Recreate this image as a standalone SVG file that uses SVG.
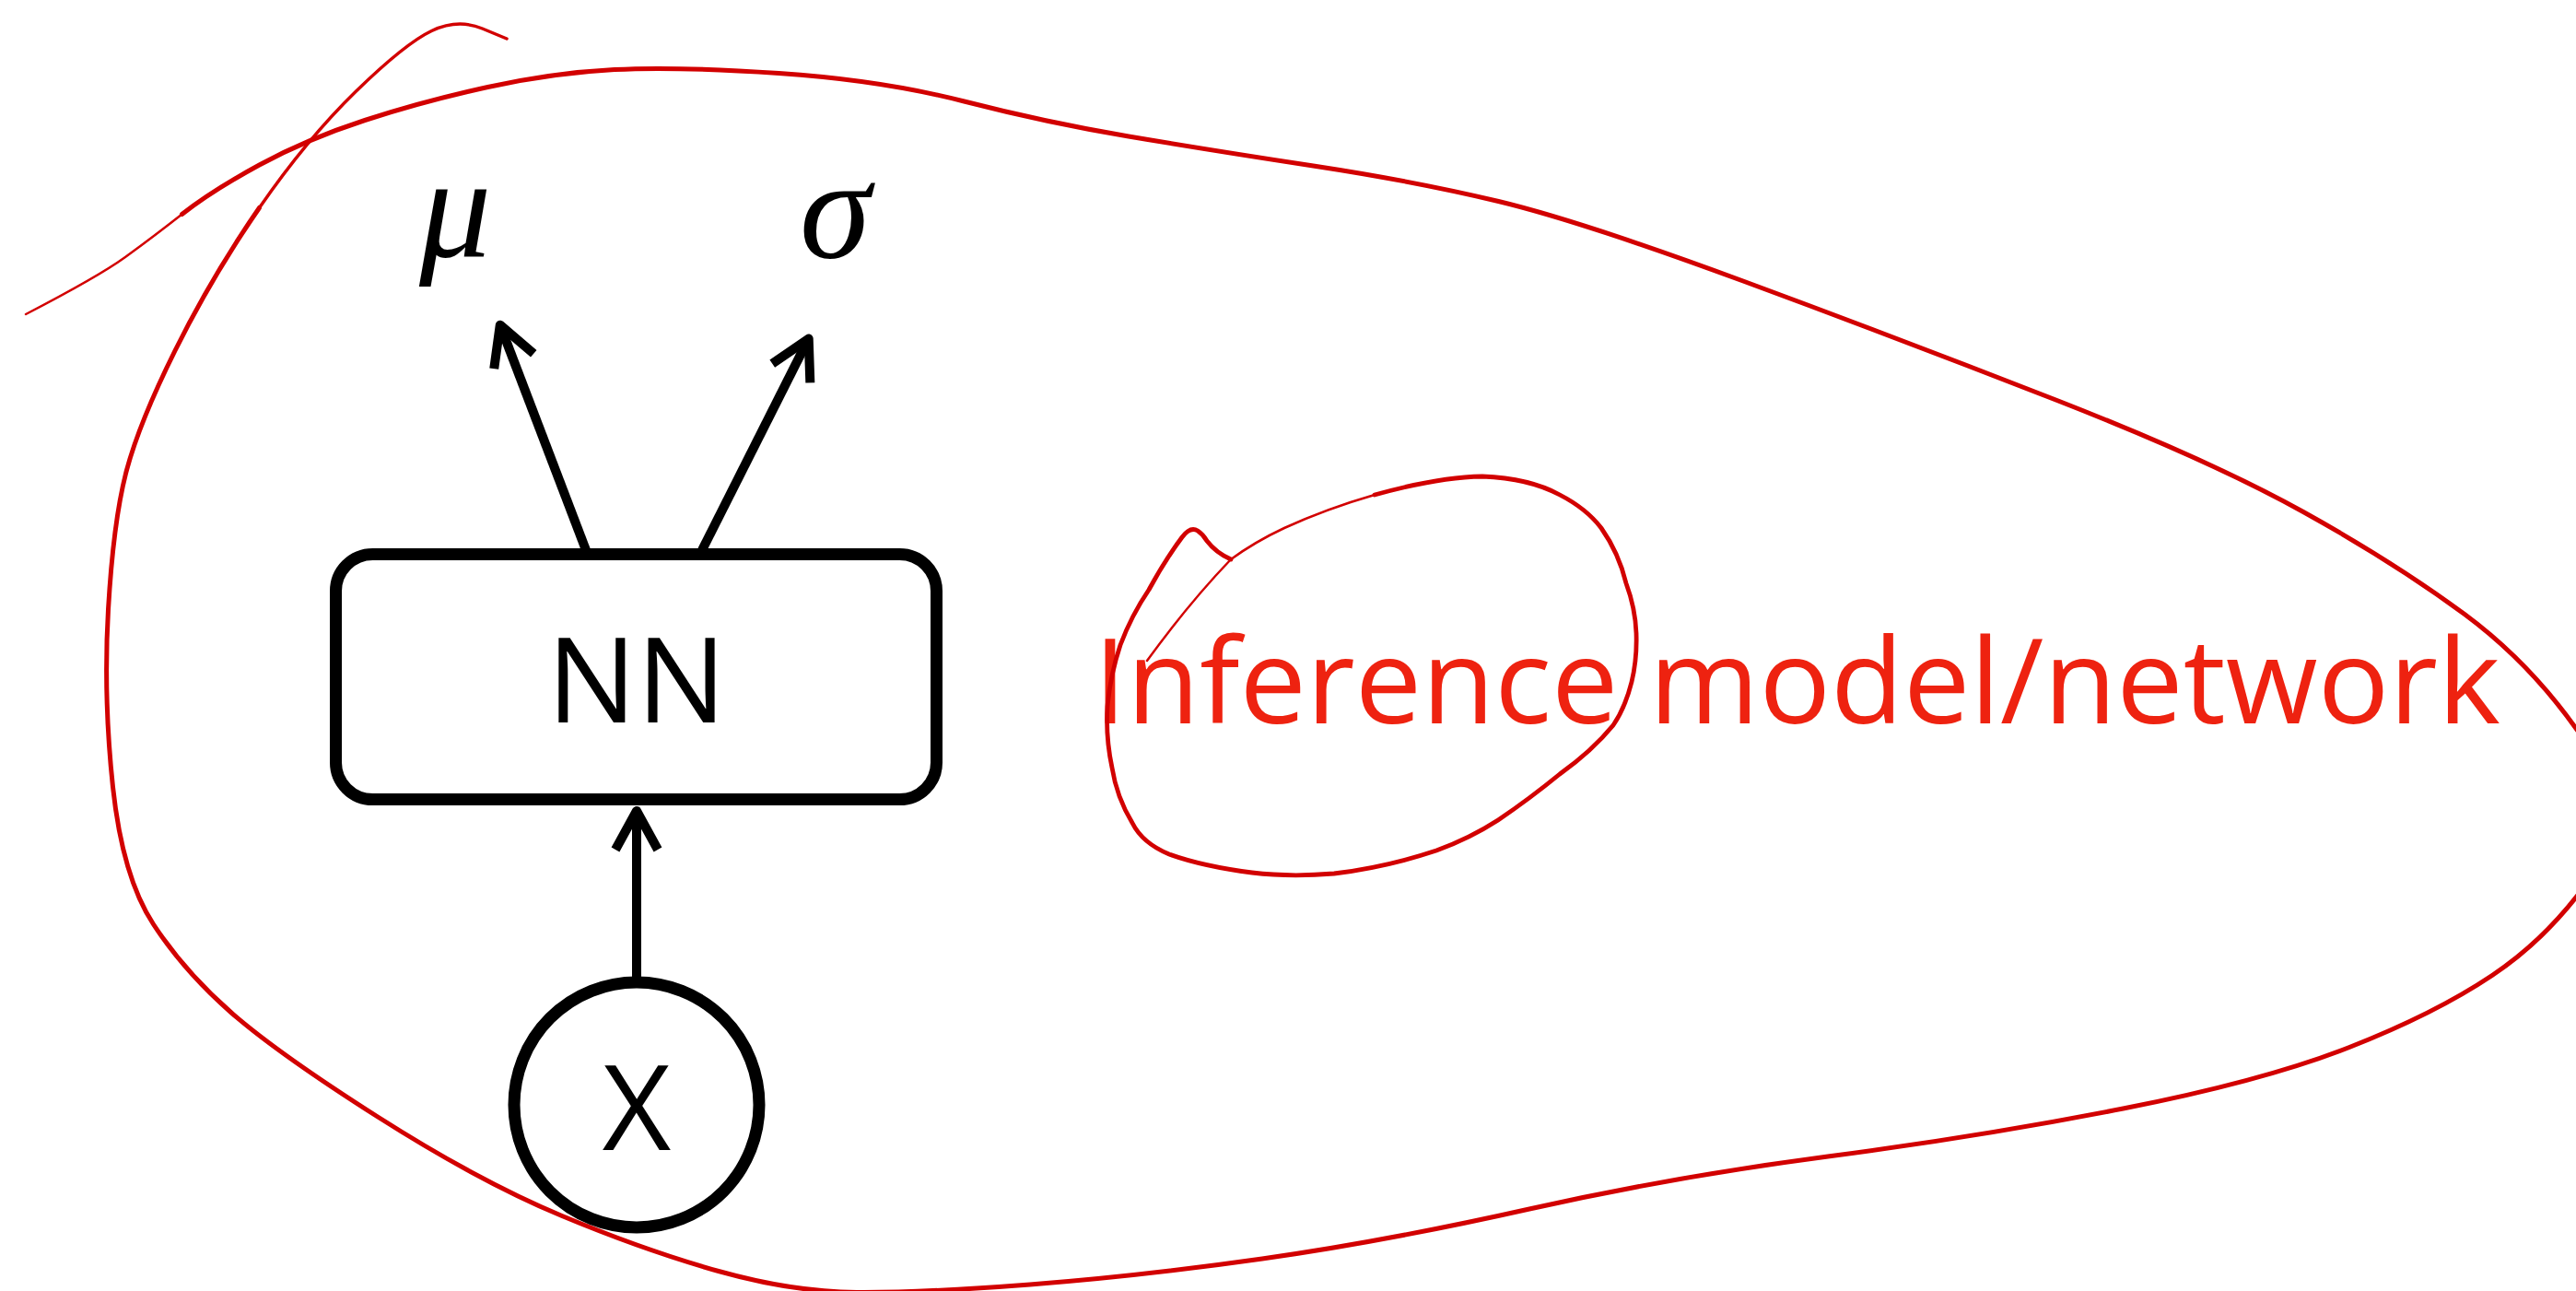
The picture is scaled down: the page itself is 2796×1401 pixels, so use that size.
<svg xmlns="http://www.w3.org/2000/svg" width="2796" height="1401" viewBox="0 0 2796 1401">
  <style>
    .shape { fill: none; stroke: #000; stroke-width: 13; }
    .edge { fill: none; stroke: #000; stroke-width: 10; }
    .lbl { font-family: "Open Sans", "Liberation Sans", sans-serif; font-size: 129px; fill: #000; }
    .greek { font-family: "Liberation Serif", "Times New Roman", serif; font-style: italic; font-size: 156px; fill: #000; }
    .ink { fill: none; stroke: #D20000; stroke-linecap: round; stroke-linejoin: round; }
    .note { font-family: "Open Sans", "Liberation Sans", sans-serif; font-size: 129px; fill: #EE2210; }
  </style>
  <defs>
    <marker id="head" markerUnits="userSpaceOnUse" viewBox="-50 -30 60 60" refX="-4" refY="0" markerWidth="60" markerHeight="60" orient="auto">
      <path d="M-42,-23 L0,0 L-42,23" fill="none" stroke="#000" stroke-width="10" stroke-linejoin="round"/>
    </marker>
  </defs>

  <rect width="2796" height="1401" fill="#fff"/>

  <!-- freehand lasso around the model -->
  <g id="lasso">
    <path class="ink" stroke-width="2.5" d="M28,341 Q107,300 136,279 Q165,258 197.5,232.5"/>
    <path class="ink" stroke-width="5" d="M197.5,232.5 Q230,207 281.5,179 Q333,151 396,130.5 Q459,110 529.5,94.5 Q600,79 667,75.5 Q734,72 845.5,79.5 Q957,87 1046.5,110 Q1136,133 1225,148 Q1314,163 1425.5,180 Q1537,197 1626.5,218.5 Q1716,240 1892,305 Q2068,370 2234,435 Q2400,500 2500,555.5 Q2600,611 2675,666.5 Q2750,722 2805,803.5 Q2860,885 2813,951 Q2767,1017 2705,1058.5 Q2643,1100 2550,1136.5 Q2457,1173 2304.5,1203 Q2152,1233 1984,1255 Q1816,1277 1660,1312 Q1504,1347 1370,1366 Q1236,1385 1118,1394 Q1000,1403 930,1402.5 Q860,1402 780,1379.5 Q700,1357 610,1319.5 Q520,1282 410,1212 Q300,1142 250,1098 Q200,1054 166.5,1003 Q133,952 122.5,854 Q112,756 117.5,661.5 Q123,567 136.5,514 Q150,461 190,380.5 Q230,300 281.5,225.5"/>
    <path class="ink" stroke-width="3.5" d="M281.5,225.5 Q333,151 386.5,99 Q440,47 468.5,33.5 Q497,20 523.5,31 L550,42"/>
  </g>

  <g id="edges">
    <line class="edge" x1="691" y1="1066" x2="691" y2="884" marker-end="url(#head)"/>
    <line class="edge" x1="636" y1="597" x2="544.2" y2="356.4" marker-end="url(#head)"/>
    <line class="edge" x1="762" y1="597" x2="875.9" y2="371.1" marker-end="url(#head)"/>
  </g>

  <g id="node-nn">
    <rect class="shape" x="364.5" y="601.5" width="652" height="266" rx="40" ry="40"/>
    <text class="lbl" x="691" y="784" text-anchor="middle">NN</text>
  </g>

  <g id="node-x">
    <circle class="shape" cx="691" cy="1199" r="133"/>
    <text class="lbl" x="691" y="1248" text-anchor="middle">X</text>
  </g>

  <g id="node-mu">
    <text class="greek" x="455" y="278">μ</text>
  </g>

  <g id="node-sigma">
    <text class="greek" x="868" y="279">σ</text>
  </g>

  <g id="annotation">
    <text class="note" x="1187" y="785">Inference model/network</text>
    <path class="ink" stroke-width="2.5" d="M1245,717 Q1290,655 1336,607 Q1362,588 1394,573 Q1440,552 1492,537"/>
    <path class="ink" stroke-width="4.8" d="M1492,537 Q1560,518 1609,517 Q1660,519 1693,537 Q1722,552 1738,573 Q1757,600 1765,633 Q1775,660 1776,687 Q1777,715 1771,740 Q1764,768 1751,787 Q1728,815 1693,840 Q1660,867 1626,890 Q1595,910 1559,923 Q1505,941 1448,948 Q1400,952 1359,947 Q1305,940 1269,927 Q1240,915 1229,893 Q1212,865 1207,833 Q1200,800 1202,767 Q1205,733 1216,700 Q1228,668 1247,640 Q1265,607 1283,583 Q1292,571 1300,576 Q1306,580 1310,587 Q1320,600 1336,607"/>
  </g>
</svg>
